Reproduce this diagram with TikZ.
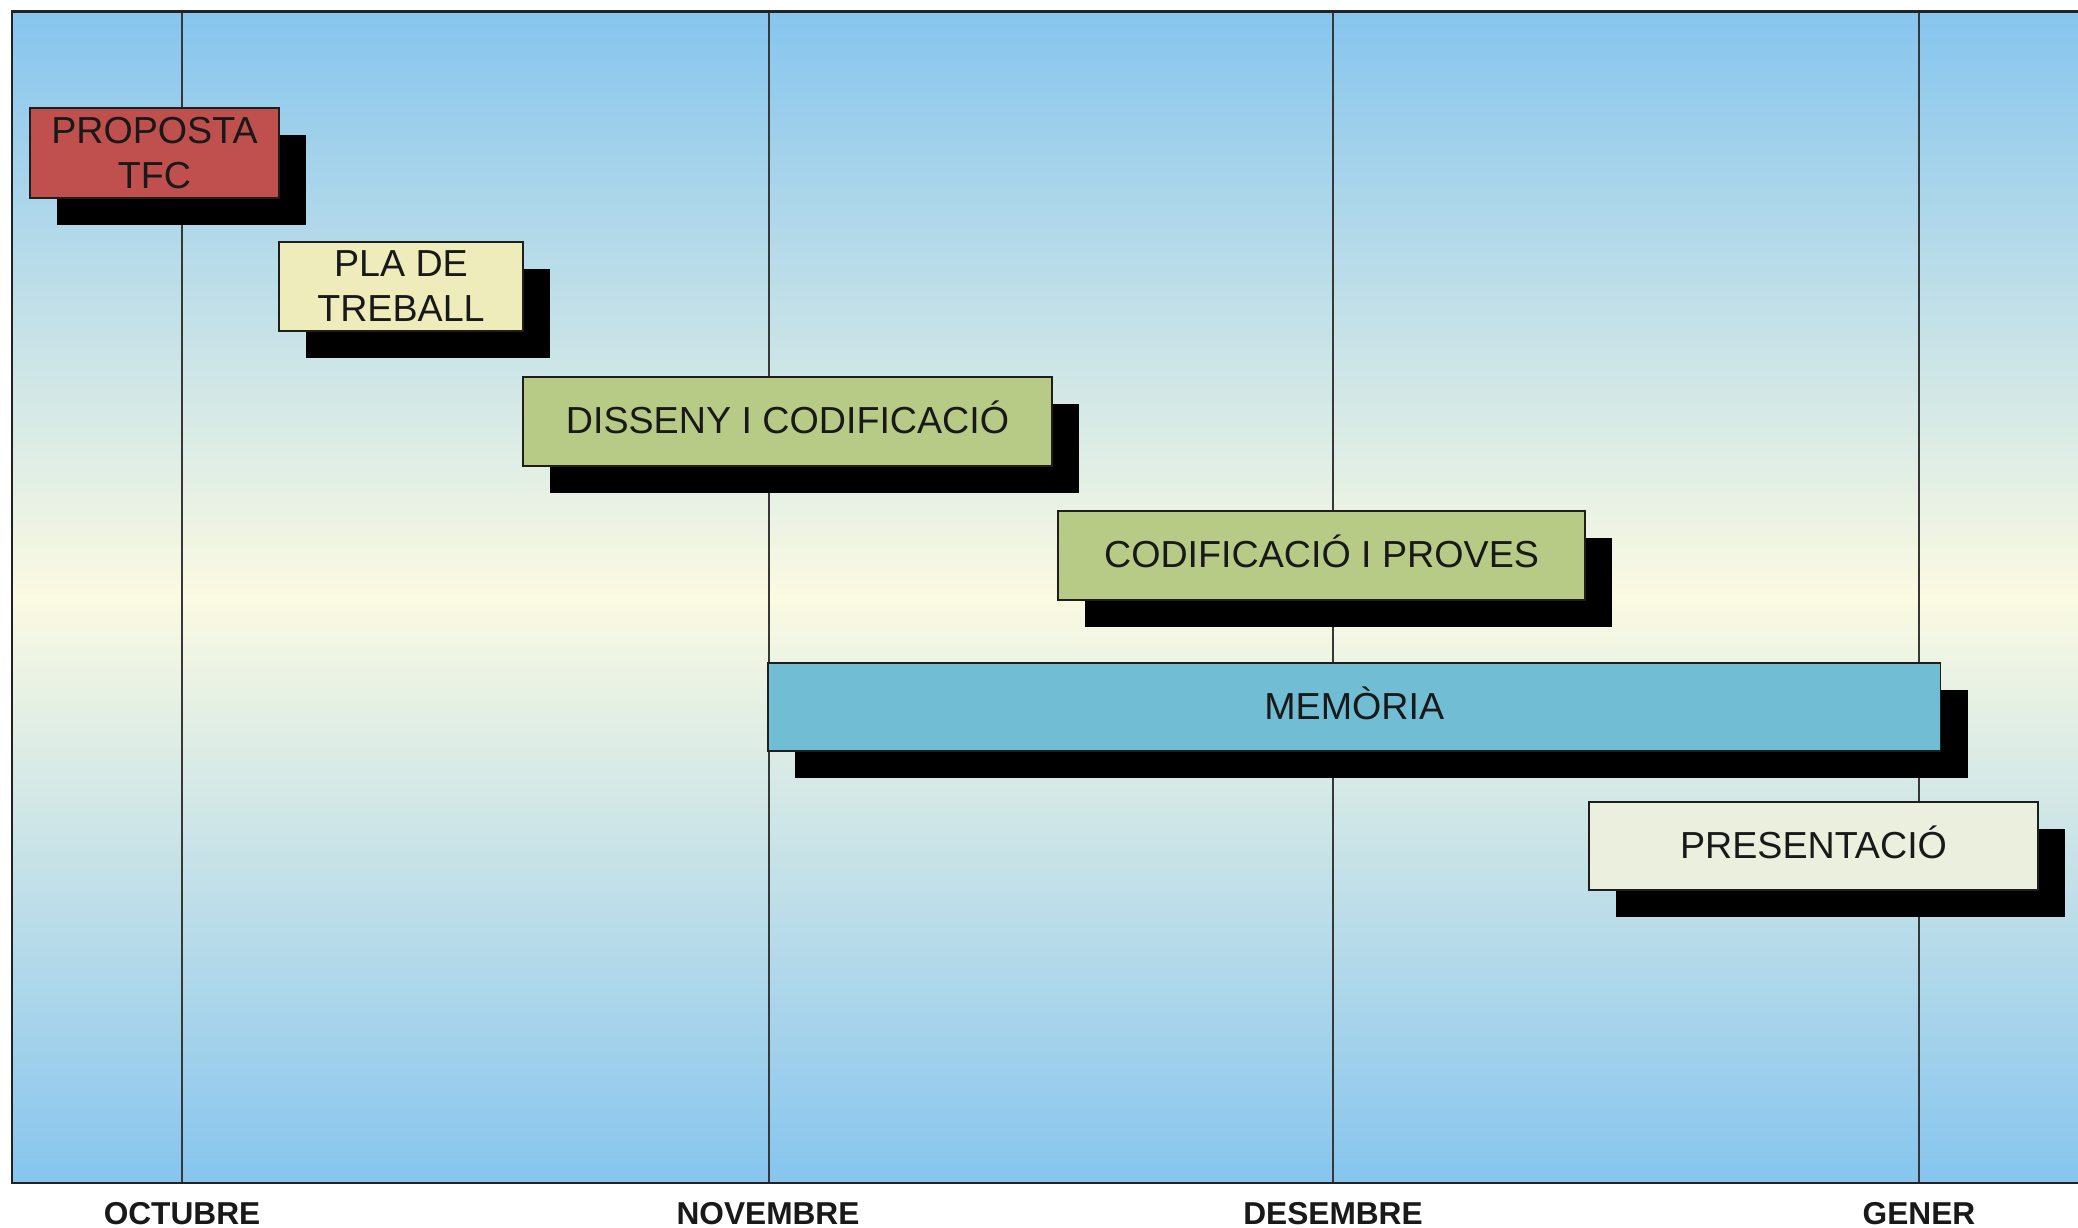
\documentclass[tikz,border=0pt]{standalone}
\usepackage{fontspec}
\setmainfont{Liberation Sans}
\usetikzlibrary{shadows}

\definecolor{skytop}{RGB}{134,197,238}
\definecolor{cream}{RGB}{251,250,226}
\definecolor{frameline}{RGB}{34,34,34}
\definecolor{monthline}{RGB}{55,55,55}
\definecolor{boxline}{RGB}{30,30,30}
\definecolor{txt}{RGB}{25,25,25}
\definecolor{redtask}{RGB}{192,80,77}
\definecolor{paletask}{RGB}{238,236,186}
\definecolor{greentask}{RGB}{183,203,135}
\definecolor{bluetask}{RGB}{112,189,212}
\definecolor{lighttask}{RGB}{235,240,222}

\tikzset{
  task/.style={draw=boxline, line width=0.5pt, anchor=north west, inner sep=0pt,
    align=center, text=txt, font=\fontsize{10.7}{12.8}\selectfont,
    drop shadow={shadow xshift=0.27cm, shadow yshift=-0.27cm, fill=black, opacity=1}},
  oneline/.style={text height=0.716em, text depth=0pt},
  monthrule/.style={draw=monthline, line width=0.6pt},
  monthlabel/.style={anchor=base, text=txt, font=\bfseries\fontsize{9}{10}\selectfont}
}

\begin{document}
\begin{tikzpicture}[x=0.01cm, y=-0.01cm]
  \useasboundingbox (0,0) rectangle (2078,1228);
  \fill[white] (0,0) rectangle (2078,1228);

  % sky-to-cream background band
  \shade[top color=skytop, bottom color=cream] (12,12) rectangle (2078,597);
  \shade[top color=cream, bottom color=skytop] (12,596) rectangle (2078,1183);

  % month boundaries
  \foreach \name/\x in {oct/182, nov/769, dec/1333, gen/1919} {
    \coordinate (\name top) at (\x,12);
    \coordinate (\name bot) at (\x,1183);
    \draw[monthrule] (\name top) -- (\name bot);
  }

  % frame (open to the right)
  \coordinate (fr1) at (2078,12);
  \coordinate (fr2) at (12,12);
  \coordinate (fr3) at (12,1183);
  \coordinate (fr4) at (2078,1183);
  \draw[frameline, line width=0.85pt] (fr1) -- (fr2) -- (fr3) -- (fr4);

  % tasks
  \node[task, fill=redtask, minimum width=2.49cm, minimum height=0.90cm] (proposta) at (29,107) {PROPOSTA\\TFC};
  \node[task, fill=paletask, minimum width=2.44cm, minimum height=0.89cm] (pla) at (278,241) {PLA DE\\TREBALL};
  \node[task, oneline, fill=greentask, minimum width=5.29cm, minimum height=0.89cm] (disseny) at (522,376) {DISSENY I CODIFICACIÓ};
  \node[task, oneline, fill=greentask, minimum width=5.27cm, minimum height=0.89cm] (proves) at (1057,510) {CODIFICACIÓ I PROVES};
  \node[task, oneline, fill=bluetask, minimum width=11.72cm, minimum height=0.88cm] (memoria) at (767,662) {MEMÒRIA};
  \node[task, oneline, fill=lighttask, minimum width=4.49cm, minimum height=0.88cm] (presentacio) at (1588,801) {PRESENTACIÓ};

  % month names
  \node[monthlabel] (loct) at (182,1225) {OCTUBRE};
  \node[monthlabel] (lnov) at (768,1225) {NOVEMBRE};
  \node[monthlabel] (ldec) at (1333,1225) {DESEMBRE};
  \node[monthlabel] (lgen) at (1919,1225) {GENER};
\end{tikzpicture}
\end{document}
